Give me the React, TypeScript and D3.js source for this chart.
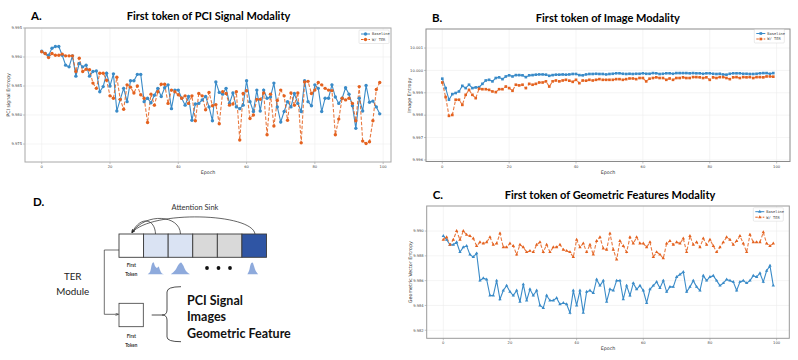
import React from "react";
import * as d3 from "d3";

// epochs 0..99
const epochs = d3.range(100);
const xTicks = [0, 20, 40, 60, 80, 100];

// A. PCI signal entropy
const pciBaseline = [
  9.9910, 9.9906, 9.9903, 9.9915, 9.9918, 9.9918, 9.9903, 9.9886, 9.9883, 9.9902,
  9.9867, 9.9889, 9.9883, 9.9886, 9.9867, 9.9875, 9.9876, 9.9840, 9.9849, 9.9872,
  9.9850, 9.9871, 9.9807, 9.9827, 9.9846, 9.9823, 9.9859, 9.9859, 9.9870, 9.9870,
  9.9823, 9.9829, 9.9821, 9.9834, 9.9846, 9.9832, 9.9847, 9.9852, 9.9811, 9.9843,
  9.9843, 9.9829, 9.9817, 9.9832, 9.9791, 9.9819, 9.9820, 9.9826, 9.9832, 9.9814,
  9.9790, 9.9857, 9.9839, 9.9836, 9.9846, 9.9820, 9.9838, 9.9814, 9.9811, 9.9817,
  9.9859, 9.9823, 9.9806, 9.9843, 9.9807, 9.9843, 9.9829, 9.9831, 9.9855, 9.9814,
  9.9788, 9.9806, 9.9823, 9.9814, 9.9837, 9.9820, 9.9806, 9.9859, 9.9823, 9.9816,
  9.9852, 9.9846, 9.9806, 9.9829, 9.9829, 9.9852, 9.9831, 9.9820, 9.9829, 9.9847,
  9.9836, 9.9816, 9.9777, 9.9829, 9.9807, 9.9851, 9.9822, 9.9824, 9.9814, 9.9802,
];
const pciTer = [
  9.9909, 9.9906, 9.9899, 9.9906, 9.9903, 9.9903, 9.9905, 9.9902, 9.9902, 9.9902,
  9.9875, 9.9898, 9.9875, 9.9879, 9.9878, 9.9855, 9.9846, 9.9872, 9.9872, 9.9860,
  9.9833, 9.9829, 9.9865, 9.9827, 9.9810, 9.9852, 9.9848, 9.9838, 9.9850, 9.9835,
  9.9829, 9.9787, 9.9836, 9.9817, 9.9840, 9.9853, 9.9853, 9.9820, 9.9843, 9.9840,
  9.9835, 9.9829, 9.9833, 9.9820, 9.9833, 9.9790, 9.9837, 9.9833, 9.9809, 9.9839,
  9.9816, 9.9818, 9.9785, 9.9840, 9.9837, 9.9817, 9.9819, 9.9840, 9.9757, 9.9837,
  9.9842, 9.9794, 9.9800, 9.9827, 9.9827, 9.9838, 9.9766, 9.9836, 9.9781, 9.9825,
  9.9843, 9.9833, 9.9791, 9.9838, 9.9817, 9.9838, 9.9752, 9.9857, 9.9858, 9.9837,
  9.9843, 9.9856, 9.9852, 9.9846, 9.9843, 9.9842, 9.9766, 9.9793, 9.9829, 9.9826,
  9.9829, 9.9820, 9.9790, 9.9849, 9.9755, 9.9751, 9.9754, 9.9790, 9.9844, 9.9856,
];
const pciTicks = [9.975, 9.98, 9.985, 9.99, 9.995];

// B. image entropy
const imgBaseline = [
  9.99963, 9.99921, 9.99869, 9.99894, 9.99899, 9.99906, 9.99931, 9.99921, 9.99936, 9.99921,
  9.99924, 9.99925, 9.9994, 9.99955, 9.99958, 9.99951, 9.99966, 9.99969, 9.99961, 9.99973,
  9.99978, 9.99973, 9.99979, 9.99979, 9.99978, 9.9997, 9.99978, 9.99979, 9.99981, 9.99982,
  9.99982, 9.99981, 9.99976, 9.99979, 9.99981, 9.99981, 9.99982, 9.99981, 9.99982, 9.99984,
  9.99984, 9.99979, 9.99978, 9.99982, 9.99984, 9.99984, 9.99985, 9.99984, 9.99984, 9.99982,
  9.99984, 9.99985, 9.99987, 9.99987, 9.99985, 9.99984, 9.99985, 9.99984, 9.99985, 9.99985,
  9.99987, 9.99985, 9.99985, 9.99988, 9.99987, 9.99984, 9.99985, 9.99987, 9.99987, 9.99985,
  9.99988, 9.99988, 9.99988, 9.99988, 9.99987, 9.99988, 9.99987, 9.99987, 9.99985, 9.99987,
  9.99987, 9.99985, 9.99984, 9.99985, 9.99982, 9.99981, 9.99985, 9.99987, 9.99987, 9.99987,
  9.99985, 9.99985, 9.99984, 9.99984, 9.99985, 9.99987, 9.99988, 9.99988, 9.99985, 9.99988,
];
const imgTer = [
  9.99946, 9.99881, 9.99797, 9.99801, 9.99869, 9.99869, 9.99846, 9.99891, 9.99913, 9.99891,
  9.99876, 9.99918, 9.99916, 9.99916, 9.99913, 9.99906, 9.99903, 9.99916, 9.99916, 9.99928,
  9.99921, 9.99909, 9.99936, 9.99933, 9.99936, 9.99921, 9.9994, 9.99936, 9.9994, 9.99946,
  9.99946, 9.99951, 9.99928, 9.99951, 9.99955, 9.99951, 9.99955, 9.99958, 9.99954, 9.99949,
  9.99958, 9.99943, 9.99955, 9.99954, 9.99958, 9.99955, 9.99958, 9.99961, 9.99958, 9.99958,
  9.99958, 9.99958, 9.99961, 9.99961, 9.99958, 9.99961, 9.99964, 9.99964, 9.99961, 9.99966,
  9.99966, 9.99951, 9.99963, 9.99966, 9.99969, 9.99966, 9.99966, 9.99958, 9.99964, 9.99958,
  9.99966, 9.99966, 9.99969, 9.99966, 9.99966, 9.9997, 9.9997, 9.99969, 9.99966, 9.99969,
  9.99958, 9.99969, 9.99966, 9.9997, 9.9997, 9.99966, 9.99961, 9.99969, 9.9997, 9.99966,
  9.9997, 9.99969, 9.9997, 9.99966, 9.9997, 9.9997, 9.99969, 9.99973, 9.99973, 9.99972,
];
const imgTicks = [9.996, 9.997, 9.998, 9.999, 10.0, 10.001];

// C. geometric vector entropy
const geoBaseline = [
  9.9896, 9.9893, 9.9889, 9.9889, 9.9891, 9.9883, 9.9887, 9.9888, 9.9881, 9.9879,
  9.9882, 9.986, 9.9862, 9.9861, 9.9848, 9.9848, 9.986, 9.9845, 9.9852, 9.9856,
  9.9851, 9.9848, 9.9852, 9.9843, 9.9857, 9.9844, 9.9853, 9.9848, 9.9852, 9.984,
  9.9838, 9.9848, 9.9844, 9.9844, 9.9846, 9.9841, 9.9842, 9.9841, 9.9834, 9.9852,
  9.984, 9.9852, 9.9834, 9.9851, 9.9852, 9.985, 9.9861, 9.9856, 9.986, 9.9843,
  9.9853, 9.9852, 9.986, 9.986, 9.9845, 9.9856, 9.9848, 9.9858, 9.9853, 9.9856,
  9.9852, 9.9842, 9.9853, 9.9856, 9.9859, 9.9854, 9.986, 9.9851, 9.9855, 9.9855,
  9.9863, 9.9865, 9.9867, 9.9851, 9.9855, 9.986, 9.9855, 9.9852, 9.9864, 9.986,
  9.9863, 9.9864, 9.986, 9.9856, 9.9858, 9.9861, 9.986, 9.9859, 9.9852, 9.9859,
  9.986, 9.9858, 9.986, 9.9864, 9.9863, 9.9866, 9.9859, 9.9868, 9.9872, 9.9856,
];
const geoTer = [
  9.9893, 9.9895, 9.9889, 9.9893, 9.99, 9.9893, 9.99, 9.9897, 9.9896, 9.9894,
  9.9888, 9.9891, 9.989, 9.9891, 9.9895, 9.9889, 9.989, 9.9898, 9.9887, 9.9887,
  9.989, 9.9888, 9.9881, 9.9889, 9.9887, 9.9883, 9.9884, 9.9883, 9.9889, 9.9891,
  9.9883, 9.9889, 9.9883, 9.9887, 9.9887, 9.9889, 9.9885, 9.9884, 9.9883, 9.9879,
  9.9893, 9.9887, 9.989, 9.9883, 9.9889, 9.9881, 9.9892, 9.9895, 9.9886, 9.9885,
  9.9898, 9.9885, 9.9877, 9.9892, 9.9888, 9.9883, 9.9895, 9.989, 9.9895, 9.989,
  9.989, 9.9887, 9.9891, 9.9879, 9.9883, 9.9881, 9.9878, 9.989, 9.9892, 9.9889,
  9.9891, 9.989, 9.9894, 9.9883, 9.9896, 9.9889, 9.9891, 9.9887, 9.9894, 9.9889,
  9.9893, 9.9888, 9.9883, 9.9887, 9.9891, 9.9895, 9.9893, 9.9889, 9.9892, 9.9896,
  9.989, 9.9883, 9.9897, 9.9891, 9.9891, 9.9891, 9.9899, 9.989, 9.9888, 9.989,
];
const geoTicks = [9.982, 9.984, 9.986, 9.988, 9.99];

const seriesNames = ["Baseline", "W/ TER"];

const BLUE = "#3a8bc8";
const ORANGE = "#e4621f";
const TITLE_FONT = "Lato, 'Open Sans', sans-serif";

type PanelProps = {
  left: number;
  right: number;
  top: number;
  bottom: number;
  xDomain: [number, number];
  yDomain: [number, number];
  yTicks: number[];
  baseline: number[];
  ter: number[];
  symbol: d3.SymbolType;
  symSize: number;
  letter: string;
  title: string;
  titleX: number;
  titleY: number;
  ylabel: string;
  legendX: number;
  legendY: number;
  frameColor: string;
};

function LinePanel(p: PanelProps) {
  const x = d3.scaleLinear().domain(p.xDomain).range([p.left, p.right]);
  const y = d3.scaleLinear().domain(p.yDomain).range([p.bottom, p.top]);
  const line = d3
    .line<number>()
    .x((_, i) => x(epochs[i]))
    .y((d) => y(d));
  const sym = d3.symbol().type(p.symbol).size(p.symSize)() || "";
  const fmt = d3.format(".3f");

  return (
    <g>
      <text x={p.left + 6} y={p.titleY} fontFamily={TITLE_FONT} fontWeight="bold" fontSize={11.5}>
        {p.letter}
      </text>
      <text x={p.titleX} y={p.titleY} textAnchor="middle" fontFamily={TITLE_FONT} fontWeight="bold" fontSize={11}>
        {p.title}
      </text>
      {/* grid */}
      {xTicks.map((t) => (
        <line key={"gx" + t} x1={x(t)} x2={x(t)} y1={p.top} y2={p.bottom} stroke="#ececec" strokeWidth={0.6} />
      ))}
      {p.yTicks.map((t) => (
        <line key={"gy" + t} x1={p.left} x2={p.right} y1={y(t)} y2={y(t)} stroke="#ececec" strokeWidth={0.6} />
      ))}
      {/* ticks */}
      {xTicks.map((t) => (
        <g key={"tx" + t}>
          <line x1={x(t)} x2={x(t)} y1={p.bottom} y2={p.bottom + 2} stroke="#666" strokeWidth={0.4} />
          <text x={x(t)} y={p.bottom + 6} textAnchor="middle" fontFamily="DejaVu Sans" fontSize={3.7} fill="#444">
            {t}
          </text>
        </g>
      ))}
      {p.yTicks.map((t) => (
        <g key={"ty" + t}>
          <line x1={p.left - 2} x2={p.left} y1={y(t)} y2={y(t)} stroke="#666" strokeWidth={0.4} />
          <text x={p.left - 3} y={y(t) + 1.3} textAnchor="end" fontFamily="DejaVu Sans" fontSize={3.7} fill="#444">
            {fmt(t)}
          </text>
        </g>
      ))}
      <text
        x={(p.left + p.right) / 2}
        y={p.bottom + 12}
        textAnchor="middle"
        fontFamily="DejaVu Sans"
        fontSize={4.8}
        fill="#333"
      >
        Epoch
      </text>
      <text
        transform={`translate(${p.left - 15},${(p.top + p.bottom) / 2}) rotate(-90)`}
        textAnchor="middle"
        fontFamily="DejaVu Sans"
        fontSize={4.8}
        fill="#333"
      >
        {p.ylabel}
      </text>
      {/* series */}
      <path d={line(p.baseline) || ""} fill="none" stroke={BLUE} strokeWidth={1.1} />
      <path
        d={line(p.ter) || ""}
        fill="none"
        stroke={ORANGE}
        strokeOpacity={0.85}
        strokeWidth={1.1}
        strokeDasharray="3.5,1.8"
      />
      {p.baseline.map((v, i) => (
        <path key={"b" + i} d={sym} transform={`translate(${x(epochs[i])},${y(v)})`} fill={BLUE} />
      ))}
      {p.ter.map((v, i) => (
        <path key={"o" + i} d={sym} transform={`translate(${x(epochs[i])},${y(v)})`} fill={ORANGE} />
      ))}
      <rect
        x={p.left}
        y={p.top}
        width={p.right - p.left}
        height={p.bottom - p.top}
        fill="none"
        stroke={p.frameColor}
        strokeWidth={1}
      />
      {/* legend */}
      <g transform={`translate(${p.legendX},${p.legendY})`}>
        <rect x={0} y={0} width={30} height={13.5} fill="#fff" stroke="#d4d4d4" strokeWidth={0.5} rx={1} />
        {seriesNames.map((name, i) => (
          <g key={name} transform={`translate(0,${4 + i * 5.5})`}>
            <line
              x1={2}
              x2={11}
              y1={0}
              y2={0}
              stroke={i === 0 ? BLUE : ORANGE}
              strokeWidth={1}
              strokeDasharray={i === 0 ? undefined : "2.5,1.2"}
            />
            <path d={sym} transform="translate(6.5,0)" fill={i === 0 ? BLUE : ORANGE} />
            <text x={13} y={1.3} fontFamily="DejaVu Sans Mono" fontSize={3.7} fill="#444">
              {name}
            </text>
          </g>
        ))}
      </g>
    </g>
  );
}

// D. diagram
const tokenFills = ["#ffffff", "#dae3f3", "#dae3f3", "#d9d9d9", "#d9d9d9", "#2f55a4"];
const modalityLabels = ["PCI Signal", "Images", "Geometric Feature"];
const peakShapes: [number, number][][] = [
  [[147.7, 274.3], [150, 272], [152, 264], [153.5, 262.3], [155, 266], [157, 268], [158.5, 266.5], [160, 270], [162, 273.5], [165.7, 274.3]],
  [[170.7, 274.3], [175, 270.5], [179, 264], [181, 262.5], [183, 265], [186, 271], [190, 274.3]],
  [[247.3, 274.3], [249, 271], [251, 263.5], [252.5, 262.5], [254, 266], [255.5, 270.5], [258.3, 274.3]],
];
const sinkSources = [
  { from: [155.5, 234], c1: [155, 219], c2: [141, 215] },
  { from: [180.5, 234], c1: [180, 215], c2: [146, 212] },
  { from: [255, 234], c1: [252, 213], c2: [152, 210] },
];

function Diagram() {
  const bx = d3.scaleLinear().domain([0, 6]).range([119, 266.5]);
  const boxY = 234;
  const boxH = 23.3;
  const peakLine = d3
    .line<[number, number]>()
    .x((d) => d[0])
    .y((d) => d[1])
    .curve(d3.curveCatmullRom);
  const sinkPt = [132, 232.5];

  return (
    <g fontFamily={TITLE_FONT}>
      <defs>
        <marker id="arr" viewBox="0 0 10 10" refX="9" refY="5" markerWidth="5" markerHeight="5" orient="auto">
          <path d="M0,1 L9,5 L0,9" fill="none" stroke="#222" strokeWidth={1.5} />
        </marker>
      </defs>
      <text x={33} y={205.5} fontWeight="bold" fontSize={11.5}>
        D.
      </text>
      <text x={195} y={209.5} textAnchor="middle" fontSize={7.5} fill="#333">
        Attention Sink
      </text>
      {sinkSources.map((s, i) => (
        <path
          key={i}
          d={`M${s.from[0]},${s.from[1]} C${s.c1[0]},${s.c1[1]} ${s.c2[0]},${s.c2[1]} ${sinkPt[0]},${sinkPt[1]}`}
          fill="none"
          stroke="#222"
          strokeWidth={0.7}
          markerEnd="url(#arr)"
        />
      ))}
      {tokenFills.map((f, i) => (
        <rect
          key={i}
          x={bx(i)}
          y={boxY}
          width={bx(1) - bx(0)}
          height={boxH}
          fill={f}
          stroke="#3b3b3b"
          strokeWidth={0.9}
        />
      ))}
      {peakShapes.map((pts, i) => (
        <path key={i} d={(peakLine(pts) || "") + "Z"} fill="#8eaadc" />
      ))}
      {[207, 218.5, 230].map((cx) => (
        <circle key={cx} cx={cx} cy={268} r={1.9} fill="#111" />
      ))}
      <text x={131.3} y={266.5} textAnchor="middle" fontSize={4.6} fontWeight="bold" fill="#333">
        First
      </text>
      <text x={131.3} y={275.5} textAnchor="middle" fontSize={4.6} fontWeight="bold" fill="#333">
        Token
      </text>
      <text x={72.7} y={280.3} textAnchor="middle" fontSize={9.8} fill="#222">
        TER
      </text>
      <text x={72.7} y={294.5} textAnchor="middle" fontSize={9.8} fill="#222">
        Module
      </text>
      <path
        d="M119,250 L104.3,250 L104.3,314.3 L118.5,314.3"
        fill="none"
        stroke="#333"
        strokeWidth={0.7}
        markerEnd="url(#arr)"
      />
      <rect x={119} y={303.3} width={24.3} height={23.4} fill="#fff" stroke="#3b3b3b" strokeWidth={0.8} />
      <text x={131.3} y={337.5} textAnchor="middle" fontSize={4.6} fontWeight="bold" fill="#333">
        First
      </text>
      <text x={131.3} y={346.5} textAnchor="middle" fontSize={4.6} fontWeight="bold" fill="#333">
        Token
      </text>
      <line x1={151.7} x2={162} y1={315} y2={315} stroke="#222" strokeWidth={0.8} />
      <path
        d="M181,286.7 Q167,286.7 167,292 L167,310 Q167,315 162,315 Q167,315 167,320 L167,337 Q167,341.7 181,341.7"
        fill="none"
        stroke="#222"
        strokeWidth={0.8}
      />
      {modalityLabels.map((t, i) => (
        <text key={t} x={187} y={304.5 + i * 16.7} fontSize={12.5} fontWeight="bold" fill="#111">
          {t}
        </text>
      ))}
    </g>
  );
}

export default function App() {
  return (
    <div style={{ position: "absolute", left: 0, top: 0 }}>
      <svg width={798} height={360} style={{ display: "block", background: "#fff" }}>
        <LinePanel
          left={25}
          right={391}
          top={28}
          bottom={162}
          xDomain={[-4.9, 102.3]}
          yDomain={[9.9719, 9.995]}
          yTicks={pciTicks}
          baseline={pciBaseline}
          ter={pciTer}
          symbol={d3.symbolCircle}
          symSize={9}
          letter="A."
          title="First token of PCI Signal Modality"
          titleX={208.5}
          titleY={20}
          ylabel="PCI signal Entropy"
          legendX={359}
          legendY={30}
          frameColor="#a8a8a8"
        />
        <LinePanel
          left={426}
          right={790}
          top={29}
          bottom={161.5}
          xDomain={[-4.87, 104]}
          yDomain={[9.99593, 10.00185]}
          yTicks={imgTicks}
          baseline={imgBaseline}
          ter={imgTer}
          symbol={d3.symbolSquare}
          symSize={7}
          letter="B."
          title="First token of Image Modality"
          titleX={607.8}
          titleY={21.5}
          ylabel="Image Entropy"
          legendX={754.3}
          legendY={29.5}
          frameColor="#8a8a8a"
        />
        <LinePanel
          left={426.7}
          right={789.3}
          top={206}
          bottom={338.3}
          xDomain={[-4.98, 103.8]}
          yDomain={[9.98135, 9.99202]}
          yTicks={geoTicks}
          baseline={geoBaseline}
          ter={geoTer}
          symbol={d3.symbolTriangle}
          symSize={5}
          letter="C."
          title="First token of Geometric Features Modality"
          titleX={610}
          titleY={199}
          ylabel="Geometric Vector Entropy"
          legendX={753.3}
          legendY={207.7}
          frameColor="#999"
        />
        <Diagram />
      </svg>
    </div>
  );
}
